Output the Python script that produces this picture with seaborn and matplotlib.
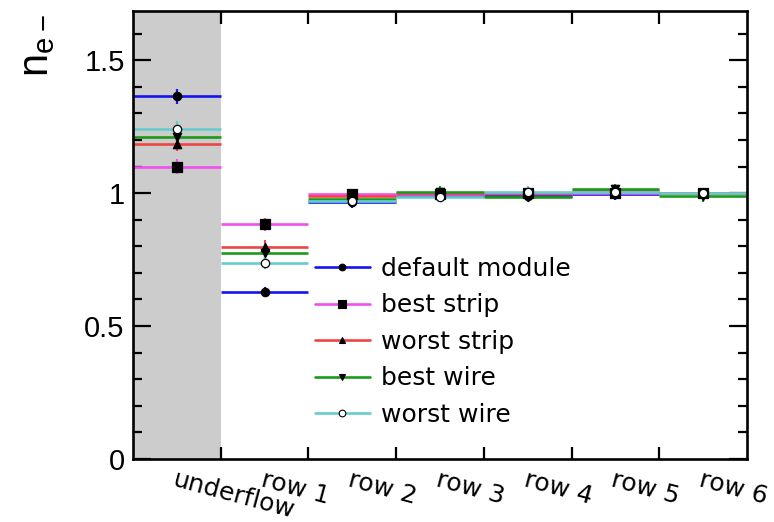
import numpy as np
import pandas as pd
import matplotlib
matplotlib.use("Agg")
import matplotlib.pyplot as plt
import seaborn as sns
from matplotlib.lines import Line2D
from matplotlib.ticker import MultipleLocator, FixedLocator, FuncFormatter

# --- data ---
bins = ["underflow", "row 1", "row 2", "row 3", "row 4", "row 5", "row 6"]
series = ["default module", "best strip", "worst strip", "best wire", "worst wire"]

default_module = [1.365, 0.628, 0.965, 0.990, 0.990, 0.995, 1.000]
best_strip = [1.100, 0.883, 0.995, 0.995, 1.000, 1.000, 1.000]
worst_strip = [1.185, 0.797, 0.990, 1.000, 1.000, 1.010, 1.000]
best_wire = [1.213, 0.774, 0.978, 1.006, 0.985, 1.015, 0.988]
worst_wire = [1.243, 0.739, 0.972, 0.985, 1.005, 1.003, 1.000]

err_default = [0.028, 0.020, 0.020, 0.020, 0.020, 0.020, 0.020]
err_best_strip = [0.027, 0.025, 0.020, 0.020, 0.020, 0.020, 0.020]
err_worst_strip = [0.027, 0.025, 0.020, 0.020, 0.020, 0.020, 0.020]
err_best_wire = [0.027, 0.025, 0.020, 0.020, 0.020, 0.020, 0.020]
err_worst_wire = [0.027, 0.025, 0.020, 0.020, 0.020, 0.020, 0.020]

values = [default_module, best_strip, worst_strip, best_wire, worst_wire]
errors = [err_default, err_best_strip, err_worst_strip, err_best_wire, err_worst_wire]

colors = ["#1414f0", "#f050f0", "#f04444", "#1a9a1a", "#66cccc"]
markers = ["o", "s", "^", "v", "o"]
msizes = [6, 7, 6, 6, 6]
faces = ["black", "black", "black", "black", "white"]

# long-form table
rows = []
for name, vals, errs in zip(series, values, errors):
    for i, (v, e) in enumerate(zip(vals, errs)):
        rows.append({"series": name, "bin": bins[i], "pos": i, "value": v, "err": e})
df = pd.DataFrame(rows)

sns.set_theme(style="ticks")
plt.rcParams["font.family"] = ["DejaVu Sans"]
plt.rcParams["axes.linewidth"] = 1.9
for key in ["text.color", "axes.labelcolor", "xtick.color", "ytick.color", "axes.edgecolor"]:
    plt.rcParams[key] = "black"

fig = plt.figure(figsize=(7.74, 5.22), dpi=100)
ax = fig.add_axes([0.1718, 0.1207, 0.7933, 0.8582])

# shaded underflow bin
ax.axvspan(-0.5, 0.5, color="#cccccc", zorder=0, lw=0)

for k, name in enumerate(series):
    d = df[df["series"] == name]
    ax.hlines(d["value"], d["pos"] - 0.5, d["pos"] + 0.5, color=colors[k], lw=1.9, zorder=2 + k * 0.1)
    ax.errorbar(d["pos"], d["value"], yerr=d["err"], fmt="none", ecolor=colors[k],
                elinewidth=1.6, capsize=0, zorder=3 + k * 0.1)
for k, name in enumerate(series):
    d = df[df["series"] == name]
    sns.scatterplot(data=d, x="pos", y="value", marker=markers[k], s=msizes[k] ** 2,
                    color=faces[k], edgecolor="black", linewidth=0.9, ax=ax, zorder=5, legend=False)

ax.set_xlim(-0.5, len(bins) - 0.5)
ax.set_ylim(0, 1.685)

# x: ticks at bin edges, labels at bin centres
ax.xaxis.set_major_locator(FixedLocator(np.arange(0.5, len(bins) - 0.5, 1)))
ax.xaxis.set_major_formatter(FuncFormatter(lambda x, p: ""))
ax.set_xticks(np.arange(len(bins)), minor=True)
ax.set_xticklabels(bins, minor=True, rotation=-15, ha="left", rotation_mode="anchor",
                   fontsize=18, family="DejaVu Sans")
ax.tick_params(axis="x", which="major", direction="in", length=9, width=1.6, top=True, bottom=True)
ax.tick_params(axis="x", which="minor", length=0, pad=6, top=False)

# y ticks
ax.yaxis.set_major_locator(MultipleLocator(0.5))
ax.yaxis.set_minor_locator(MultipleLocator(0.1))
ax.yaxis.set_major_formatter(FuncFormatter(lambda y, p: f"{y:g}"))
ax.tick_params(axis="y", which="major", direction="in", length=13, width=1.6, right=True, left=True,
               labelsize=21, pad=6)
ax.tick_params(axis="y", which="minor", direction="in", length=6.5, width=1.6, right=True, left=True)
for lab in ax.get_yticklabels():
    lab.set_family("Liberation Sans")

ax.set_xlabel("")
ax.set_ylabel("")
# y title, rotated, at the top left (ROOT style)
fig.text(17 / 774, 1 - 14 / 522, r"n$_{\mathregular{e-}}$", rotation=90, ha="left", va="top",
         fontsize=30, family="Liberation Sans")

# legend
handles = [Line2D([0], [0], color=colors[k], lw=1.9, marker=markers[k], markersize=msizes[k] * 0.8,
                  markerfacecolor=faces[k], markeredgecolor="black", markeredgewidth=0.8)
           for k in range(len(series))]
ax.legend(handles, series, loc="upper left", bbox_to_anchor=(0.296, 0.451), frameon=False,
          fontsize=18, handlelength=2.2, handletextpad=0.45, labelspacing=0.5,
          borderpad=0, borderaxespad=0)

fig.savefig("out.png", dpi=100)
